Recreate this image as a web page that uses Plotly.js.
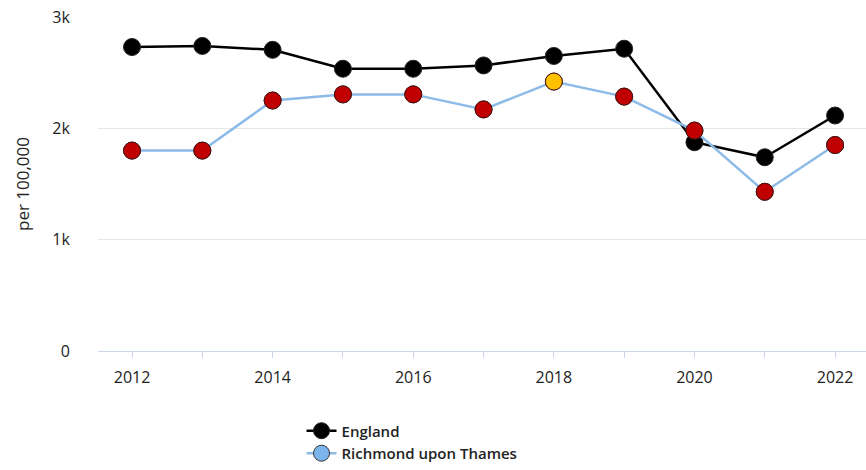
<!DOCTYPE html>
<html><head><meta charset="utf-8">
<script src="https://cdn.plot.ly/plotly-3.0.1.min.js"></script>
<style>html,body{margin:0;padding:0;background:#fff}</style>
</head><body><div id="chart" style="width:866px;height:470px"></div>
<script>
const years = [2012,2013,2014,2015,2016,2017,2018,2019,2020,2021,2022];
const england = [2730,2740,2705,2535,2535,2565,2650,2715,1875,1740,2115];
const richmond = [1800,1800,2250,2305,2305,2170,2420,2285,1980,1430,1850];
const richmondColors = ['#c00000','#c00000','#c00000','#c00000','#c00000','#c00000','#ffc000','#c00000','#c00000','#c00000','#c00000'];
const tickYears = years;
const tickLabels = years.map(y => y % 2 === 0 ? String(y) : '');
const yTicks = [0,1000,2000,3000];
const yLabels = ['0','1k','2k','3k'];

const traces = [
  {x: years, y: england, name: 'England', mode: 'lines+markers',
   line: {color: '#000', width: 2.5},
   marker: {size: 17, color: '#000', line: {color: '#222', width: 1}}, cliponaxis: false},
  {x: years, y: richmond, name: 'Richmond upon Thames', mode: 'lines+markers',
   line: {color: '#8cbbe8', width: 2.5},
   marker: {size: 17, color: '#7cb5ec', line: {color: '#333', width: 1}}, cliponaxis: false},
  {x: years, y: richmond, name: 'Richmond upon Thames', mode: 'markers', showlegend: false,
   marker: {size: 17, color: richmondColors, line: {color: '#4a1010', width: 1}}, cliponaxis: false}
];
const layout = {
  width: 866, height: 470,
  margin: {l: 98, r: 0, t: 17, b: 117},
  paper_bgcolor: '#fff', plot_bgcolor: '#fff',
  font: {family: 'Open Sans, DejaVu Sans, sans-serif', color: '#222'},
  showlegend: true,
  legend: {x: 0.265, y: -0.19, xanchor: 'left', yanchor: 'top',
    traceorder: 'normal', font: {size: 15, color: '#222', weight: 600}, tracegroupgap: 0, itemwidth: 30},
  xaxis: {range: [2011.516, 2022.44], tickvals: tickYears, ticktext: tickLabels,
    showgrid: false, zeroline: false, showline: true, linecolor: '#ccd6eb', linewidth: 1,
    ticks: 'outside', ticklen: 6, tickcolor: '#ccd6eb', ticklabelstandoff: 6,
    tickfont: {size: 16, color: '#222'}},
  yaxis: {range: [0, 3000], tickvals: yTicks, ticktext: yLabels, showgrid: true, gridcolor: '#e6e6e6',
    zeroline: false, showline: false, ticks: 'outside', ticklen: 24, tickcolor: 'rgba(0,0,0,0)',
    tickfont: {size: 16, color: '#222'},
    title: {text: 'per 100,000', font: {size: 17, color: '#222'}, standoff: 18}}
};
Plotly.newPlot('chart', traces, layout, {displayModeBar: false, staticPlot: true});
</script></body></html>
